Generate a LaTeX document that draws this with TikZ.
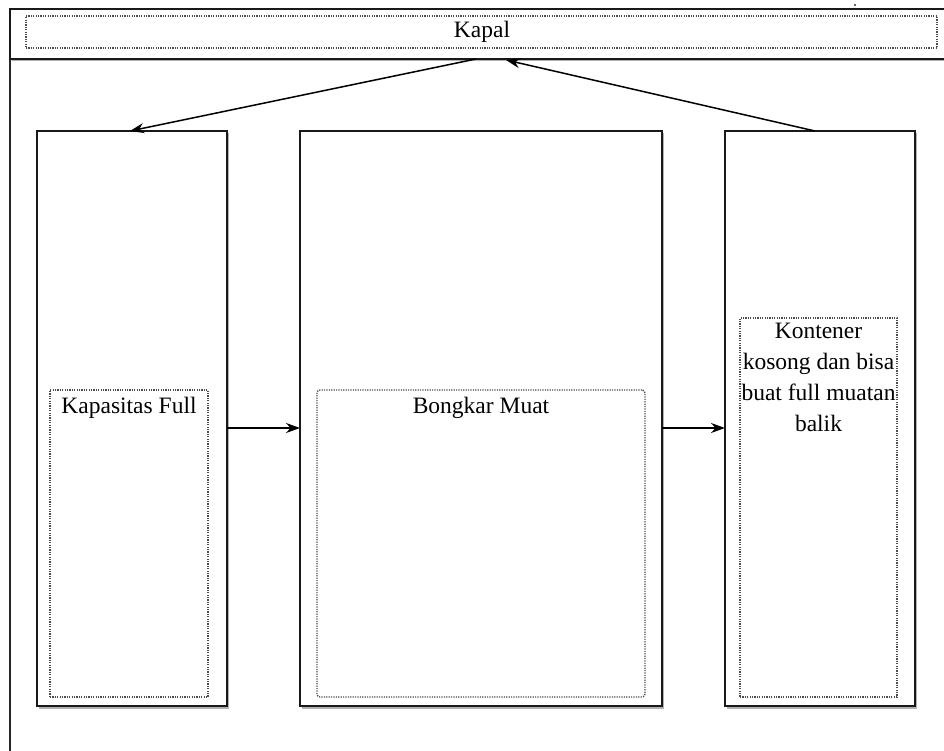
\documentclass[tikz,border=0pt]{standalone}
\usepackage{fontspec}
\setmainfont{Liberation Serif}
\usetikzlibrary{arrows.meta,shadows,calc}
\begin{document}
\begin{tikzpicture}[x=1pt,y=-1pt,
  every node/.style={inner sep=0pt,outer sep=0pt},
  frame/.style={draw=black!85,line width=1.6pt},
  stagebox/.style={draw=black!90,line width=1.7pt,fill=white,anchor=north west,
    drop shadow={shadow xshift=1.5pt,shadow yshift=-2.5pt,fill=black,opacity=0.3}},
  dotbox/.style={draw=black!70,line width=1.4pt,dash pattern=on 1.2pt off 1.2pt,anchor=north west},
  label/.style={font=\fontsize{23.5}{31}\selectfont,align=center,anchor=north},
  flow/.style={draw=black,line width=1.5pt,-{Stealth[length=14pt,width=10pt]}}
]
\useasboundingbox (0,0) rectangle (944,751);

% outer frame, left side
\draw[frame] (10,9) -- (10,751);

% header bar
\node[stagebox,minimum width=950pt,minimum height=50pt] (kapal) at (10,9) {};
\node[dotbox,minimum width=911pt,minimum height=32pt] (kapalin) at (26,16) {};
\node[font=\fontsize{23.5}{31}\selectfont] (kapaltxt) at (482,32) {Kapal};
\fill[black!80] (855,5) circle (1.1);

% three stage boxes
\node[stagebox,minimum width=190pt,minimum height=575pt] (lbox) at (37,131) {};
\node[stagebox,minimum width=362pt,minimum height=575pt] (mbox) at (300,131) {};
\node[stagebox,minimum width=190pt,minimum height=575pt] (rbox) at (725,131) {};

% dotted text frames
\node[dotbox,minimum width=158pt,minimum height=307pt] (lin) at (50,390) {};
\node[dotbox,minimum width=328pt,minimum height=307pt,rounded corners=3pt] (min) at (317,390) {};
\node[dotbox,minimum width=157pt,minimum height=379pt] (rin) at (740,318) {};

\node[label] (ltxt) at ($(lin.north)+(0,7)$) {Kapasitas Full};
\node[label] (mtxt) at ($(min.north)+(0,7)$) {Bongkar Muat};
\node[label] (rtxt) at ($(rin.north)+(0,5)$) {Kontener\\kosong dan bisa\\buat full muatan\\balik};

% connector anchor points
\coordinate (kout) at (476,59);
\coordinate (kin)  at (506,60);
\coordinate (ltop) at (130,131);
\coordinate (rtop) at (815,131);
\coordinate (row)  at (0,428);

\draw[flow] (kout) -- (ltop);
\draw[flow] (rtop) -- (kin);
\draw[flow] (lbox.east |- row) -- (mbox.west |- row);
\draw[flow] (mbox.east |- row) -- (rbox.west |- row);
\end{tikzpicture}
\end{document}
